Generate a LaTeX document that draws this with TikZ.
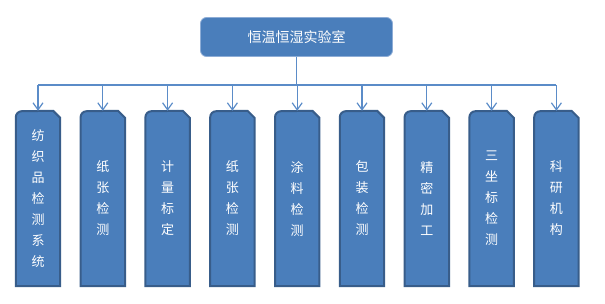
\documentclass[tikz,border=0pt]{standalone}
\usepackage{fontspec}
\newfontfamily\cjk{Noto Sans CJK SC}
\usepackage{xcolor}
\usetikzlibrary{arrows.meta,backgrounds}
\definecolor{boxblue}{HTML}{4A7EBB}
\definecolor{tabedge}{HTML}{385D8A}
\definecolor{topedge}{HTML}{8EADD6}
\definecolor{linkblue}{HTML}{5B8CC8}

\begin{document}
\begin{tikzpicture}[
    x=1pt, y=-1pt,
    topbox/.style={rectangle, rounded corners=6pt, minimum width=192pt, minimum height=39pt, draw=topedge, fill=boxblue, line width=0.8pt, text=white, font=\cjk\fontsize{14}{16}\selectfont},
    lab/.style={rectangle, minimum width=44pt, minimum height=175pt, inner sep=0pt, align=center, text=white, font=\cjk\fontsize{13}{21}\selectfont},
    tab/.style={draw=tabedge, fill=boxblue, line width=2pt},
    bus/.style={draw=linkblue, line width=1.2pt},
    arrow/.style={-{Straight Barb[length=7pt,width=10pt]}, draw=linkblue, line width=1.2pt},
]
\useasboundingbox (0,0) rectangle (605,303);

\node[topbox] (lab0) at (296.5,37) {恒温恒湿实验室};

\node[lab] (t1) at (38,198.5)    {纺\\织\\品\\检\\测\\系\\统};
\node[lab] (t2) at (102.8,198.5) {纸\\张\\检\\测};
\node[lab] (t3) at (167.6,198.5) {计\\量\\标\\定};
\node[lab] (t4) at (232.4,198.5) {纸\\张\\检\\测};
\node[lab] (t5) at (297.2,198.5) {涂\\料\\检\\测};
\node[lab] (t6) at (362,198.5)   {包\\装\\检\\测};
\node[lab] (t7) at (426.8,198.5) {精\\密\\加\\工};
\node[lab] (t8) at (491.6,198.5) {三\\坐\\标\\检\\测};
\node[lab] (t9) at (556.4,198.5) {科\\研\\机\\构};

% snipped tabs behind the labels
\begin{scope}[on background layer]
\foreach \n in {t1,t2,t3,t4,t5,t6,t7,t8,t9}
  \draw[tab] (\n.south west) -- ++(0,-169) arc[start angle=180, end angle=90, radius=6pt]
    -- ([xshift=-7pt]\n.north east) -- ++(7,7) -- (\n.south east) -- cycle;
\end{scope}

% bus
\coordinate (busL) at (38,85);
\coordinate (busR) at (556.4,85);
\draw[bus] (lab0.south) -- (lab0.south |- busL);
\draw[bus] (busL) -- (busR);

\foreach \n in {t1,t2,t3,t4,t5,t6,t7,t8,t9}
  \draw[arrow] (\n.north |- busL) -- (\n.north);
\end{tikzpicture}
\end{document}
